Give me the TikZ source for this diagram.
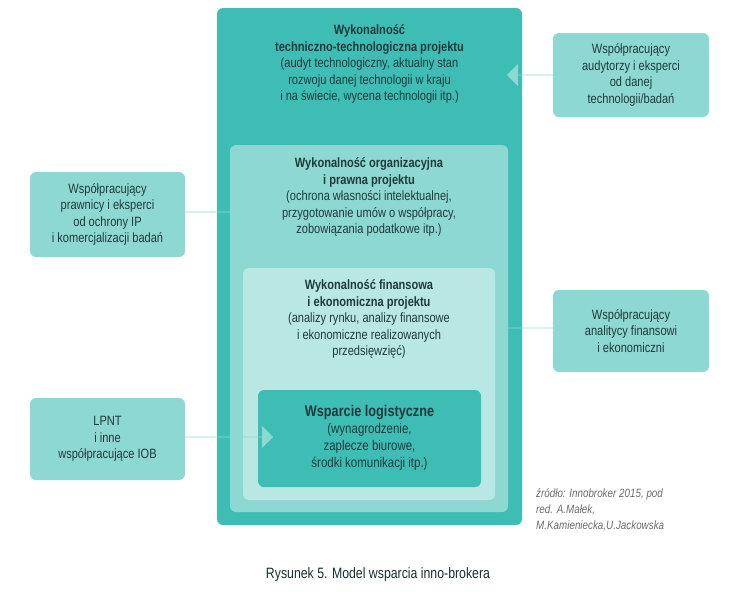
\documentclass[tikz,border=0pt]{standalone}
\usepackage{fontspec}
\setmainfont{Liberation Sans}[FakeStretch=0.82]
\usetikzlibrary{shapes.arrows}
\definecolor{tA}{HTML}{3DBDB4}
\definecolor{tB}{HTML}{8DD8D2}
\definecolor{tC}{HTML}{B9E7E4}
\definecolor{txt}{HTML}{1F3A3C}
\begin{document}
\begin{tikzpicture}[x=1pt,y=-1pt,
 box/.style={rounded corners=6pt,draw=none},
 side/.style={box,fill=tB},
 t/.style={align=center,font=\fontsize{13.5}{16.5}\selectfont,text=txt,inner sep=0pt},
 arr/.style={single arrow,fill=tB,draw=none,minimum height=#1,single arrow head extend=8pt,minimum width=22pt,inner sep=0pt}]
\useasboundingbox (0,0) rectangle (753,592);
\fill[white] (0,0) rectangle (753,592);
\draw[box,fill=tA] (217,8) rectangle (522,525);
\draw[box,fill=tB] (230,145) rectangle (508,512);
\draw[box,fill=tC] (243,268) rectangle (495,500);
\draw[box,fill=tA] (258,390) rectangle (481,487);
\node[t] (n1) at (369.5,64) {\textbf{Wykonalność}\\\textbf{techniczno-technologiczna projektu}\\(audyt technologiczny, aktualny stan\\rozwoju danej technologii w kraju\\i na świecie, wycena technologii itp.)};
\node[t] (n2) at (369,197) {\textbf{Wykonalność organizacyjna}\\\textbf{i prawna projektu}\\(ochrona własności intelektualnej,\\przygotowanie umów o współpracy,\\zobowiązania podatkowe itp.)};
\node[t] (n3) at (369,319) {\textbf{Wykonalność finansowa}\\\textbf{i ekonomiczna projektu}\\(analizy rynku, analizy finansowe\\i ekonomiczne realizowanych\\przedsięwzięć)};
\node[t,font=\fontsize{14}{17}\selectfont] (n4) at (369.5,438) {\textbf{\fontsize{15.5}{17}\selectfont Wsparcie logistyczne}\\(wynagrodzenie,\\zaplecze biurowe,\\środki komunikacji itp.)};
\draw[side] (553,33) rectangle (709,117);
\node[t] (s1) at (631,75) {Współpracujący\\audytorzy i eksperci\\od danej\\technologii/badań};
\draw[side] (30,172) rectangle (185,257);
\node[t] (s2) at (107.5,214.5) {Współpracujący\\prawnicy i eksperci\\od ochrony IP\\i komercjalizacji badań};
\draw[side] (553,290) rectangle (709,372);
\node[t] (s3) at (631,331) {Współpracujący\\analitycy finansowi\\i ekonomiczni};
\draw[side] (30,398) rectangle (185,480);
\node[t] (s4) at (107.5,439) {LPNT\\i inne\\współpracujące IOB};
\node[arr=48pt,shape border rotate=180] (a1) at (531,75) {};
\node[arr=60pt] (a2) at (214,212) {};
\node[arr=58pt,shape border rotate=180] (a3) at (524,328) {};
\node[arr=90pt] (a4) at (228,437) {};
\node[align=left,font=\itshape\fontsize{12}{16}\selectfont,text=gray!85!black,inner sep=0pt,anchor=north west] (src) at (536,488) {źródło: Innobroker 2015, pod\\red. A.Małek,\\M.Kamieniecka,U.Jackowska};
\node[font=\fontsize{15}{17}\selectfont,text=txt!80!black,inner sep=0pt] (cap) at (378,575) {Rysunek 5. Model wsparcia inno-brokera};
\end{tikzpicture}
\end{document}
